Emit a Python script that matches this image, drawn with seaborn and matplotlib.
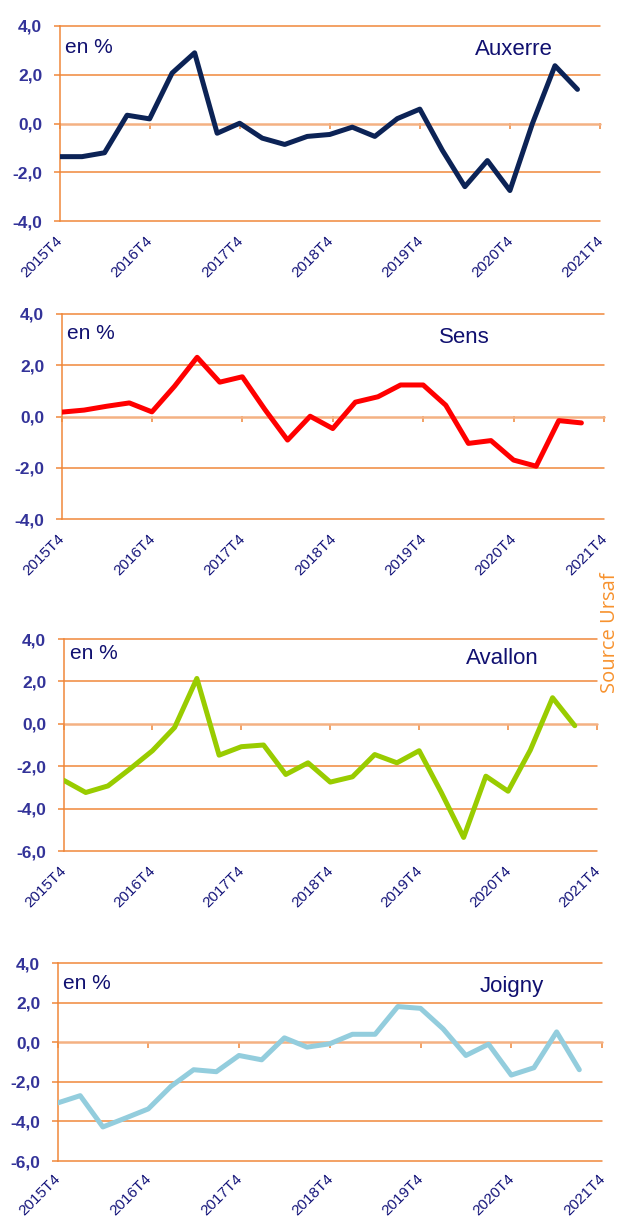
import matplotlib
matplotlib.use("Agg")
import matplotlib.pyplot as plt
import matplotlib.transforms as mtransforms
import seaborn as sns
import pandas as pd
import numpy as np

quarters = ["2015T4", "2016T1", "2016T2", "2016T3", "2016T4", "2017T1", "2017T2", "2017T3",
            "2017T4", "2018T1", "2018T2", "2018T3", "2018T4", "2019T1", "2019T2", "2019T3",
            "2019T4", "2020T1", "2020T2", "2020T3", "2020T4", "2021T1", "2021T2", "2021T3",
            "2021T4"]
tick_labels = ["2015T4", "2016T4", "2017T4", "2018T4", "2019T4", "2020T4", "2021T4"]

auxerre = [-1.36, -1.36, -1.20, 0.34, 0.19, 2.07, 2.90, -0.40, 0.01, -0.60, -0.86, -0.53,
           -0.45, -0.15, -0.53, 0.20, 0.59, -1.10, -2.59, -1.52, -2.75, 0.00, 2.37, 1.40]
sens = [0.17, 0.25, 0.40, 0.53, 0.18, 1.18, 2.31, 1.34, 1.55, 0.27, -0.92, 0.01,
        -0.47, 0.56, 0.77, 1.23, 1.23, 0.44, -1.05, -0.94, -1.70, -1.94, -0.16, -0.25]
avallon = [-2.66, -3.24, -2.93, -2.12, -1.27, -0.17, 2.14, -1.48, -1.08, -1.00, -2.39, -1.84,
           -2.75, -2.50, -1.45, -1.84, -1.27, -3.25, -5.36, -2.47, -3.18, -1.24, 1.23, -0.09]
joigny = [-3.07, -2.70, -4.28, -3.83, -3.37, -2.23, -1.39, -1.49, -0.67, -0.89, 0.22, -0.25,
          -0.08, 0.40, 0.40, 1.80, 1.71, 0.67, -0.67, -0.10, -1.66, -1.29, 0.52, -1.39]

cities = ["Auxerre", "Sens", "Avallon", "Joigny"]
series = [auxerre, sens, avallon, joigny]
colors = ["#0c2356", "#ff0000", "#99cc00", "#93cddd"]
ylims = [(-4, 4), (-4, 4), (-6, 4), (-6, 4)]

W, H = 622, 1219
fig = plt.figure(figsize=(W / 100, H / 100), dpi=100)
sns.set_style("white")
plt.rcParams['font.family'] = ['Liberation Sans', 'DejaVu Sans']

# (left, right, top, bottom) in pixels
boxes = [(59.5, 600, 26, 221), (61.5, 604, 314, 519), (63.5, 597, 639, 851), (57.5, 602, 963, 1161)]
enpct = [(0.010, 0.889), (0.010, 0.906), (0.012, 0.933), (0.011, 0.894)]
citypos = [(0.769, 0.882), (0.696, 0.883), (0.755, 0.906), (0.776, 0.879)]
xpads = [9, 9, 9, 7.5]

grid_c = "#f0883a"
zero_c = "#f4b183"
ytick_c = "#333399"
xtick_c = "#14147a"
navy = "#101070"

for i, (city, vals, col, yl, box) in enumerate(zip(cities, series, colors, ylims, boxes)):
    l, r, t, b = box
    ax = fig.add_axes([l / W, 1 - b / H, (r - l) / W, (b - t) / H])
    df = pd.DataFrame({"x": np.arange(len(vals)), "v": vals})
    ticks = np.arange(yl[0], yl[1] + 0.1, 2)
    for yv in ticks:
        ax.axhline(yv, color=zero_c if yv == 0 else grid_c, lw=1.8 if yv == 0 else 1.1,
                   zorder=1, clip_on=False)
    sns.lineplot(data=df, x="x", y="v", ax=ax, color=col, lw=3.6, zorder=3)
    ax.set_xlim(0, len(quarters) - 1)
    ax.set_ylim(*yl)
    ax.set_xlabel("")
    ax.set_ylabel("")
    for s in ["top", "right", "bottom"]:
        ax.spines[s].set_visible(False)
    ax.spines["left"].set_color(grid_c)
    ax.spines["left"].set_linewidth(1.1)
    ax.set_yticks(ticks)
    ax.set_yticklabels([f"{v:.1f}".replace(".", ",") for v in ticks],
                       fontsize=12.5, fontweight="bold", color=ytick_c)
    ax.tick_params(axis="y", length=4.5, width=1.1, color=grid_c, pad=8, left=True)
    tick_idx = [quarters.index(q) for q in tick_labels]
    ax.set_xticks(tick_idx)
    ax.set_xticklabels(tick_labels, rotation=45, ha="right", rotation_mode="anchor",
                       fontsize=11, color=xtick_c)
    ax.tick_params(axis="x", length=0, pad=xpads[i])
    shift = mtransforms.ScaledTranslation(-4 / 100, 0, fig.dpi_scale_trans)
    for lab in ax.get_xticklabels():
        lab.set_transform(lab.get_transform() + shift)
    # tick marks on the zero line
    zfrac = (0 - yl[0]) / (yl[1] - yl[0])
    sec = ax.secondary_xaxis(zfrac)
    sec.set_xticks(tick_idx)
    sec.set_xticklabels([""] * len(tick_idx))
    sec.tick_params(axis="x", direction="in", length=4, width=1.1, color=grid_c)
    sec.spines["bottom"].set_visible(False)
    sec.spines["top"].set_visible(False)
    ax.grid(False)
    ax.text(enpct[i][0], enpct[i][1], "en %", transform=ax.transAxes, fontsize=15,
            color=navy, va="center", ha="left")
    ax.text(citypos[i][0], citypos[i][1], city, transform=ax.transAxes, fontsize=16,
            color=navy, va="center", ha="left")

fig.text(0.981, 1 - 633 / H, "Source Ursaf", rotation=90, color="#f7922e",
         fontsize=14.5, family="Open Sans", va="center", ha="center")

fig.savefig("out.png", dpi=100)
